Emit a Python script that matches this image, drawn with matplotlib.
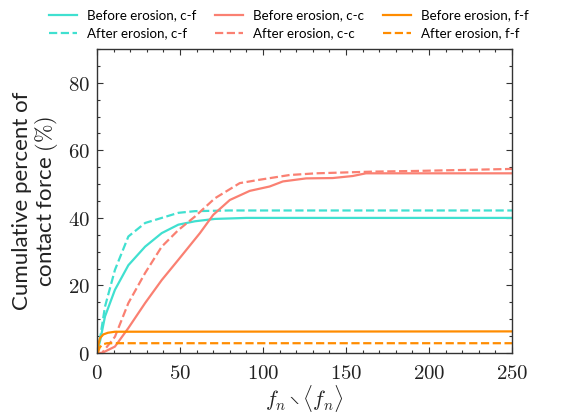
import numpy as np
import matplotlib
matplotlib.use("Agg")
import matplotlib.pyplot as plt
from matplotlib.ticker import MultipleLocator, FuncFormatter

plt.rcParams["mathtext.fontset"] = "cm"

# Cumulative percent of contact force vs normalised normal force
cf_before_x = [0, 2, 4.8, 10.8, 18.9, 29, 39, 49, 59, 71, 90, 250]
cf_before_y = [0, 3.9, 10.8, 18.7, 26.0, 31.5, 35.5, 38.0, 39.0, 39.7, 40.0, 40.0]

cf_after_x = [0, 2, 4.8, 10.8, 18.9, 29, 39, 49, 59, 80, 250]
cf_after_y = [0, 4.8, 13.7, 24.6, 34.5, 38.5, 40.0, 41.5, 42.0, 42.2, 42.2]

cc_before_x = [0, 3, 10.8, 18.9, 29, 39, 49, 62, 70, 80, 92, 104, 112, 126, 142, 154, 162, 250]
cc_before_y = [0, 0, 1.9, 7.4, 14.8, 21.6, 27.6, 35.5, 40.9, 45.3, 48.0, 49.3, 50.8, 51.7, 51.8, 52.4, 53.2, 53.2]

cc_after_x = [0, 3, 10.8, 18.9, 29, 39, 49, 59, 71, 86, 98, 116, 132, 166, 192, 250]
cc_after_y = [0, 0, 4.8, 14.8, 23.7, 31.5, 36.4, 40.4, 45.8, 50.3, 51.3, 52.7, 53.2, 53.7, 53.9, 54.5]

ff_before_x = [0, 0.8, 1.8, 3.8, 6.6, 10.8, 250]
ff_before_y = [0, 2.4, 4.4, 5.5, 6.0, 6.3, 6.4]

ff_after_x = [0.5, 1.5, 3, 6, 250]
ff_after_y = [0, 1.5, 2.5, 2.9, 2.9]

c_cf = "#40E0D0"
c_cc = "#FA8072"
c_ff = "#FF8C00"

fig = plt.figure(figsize=(5.61, 4.19), dpi=100)
ax = fig.add_axes([0.1729, 0.1575, 0.7398, 0.7255])

lw = 1.6
ax.plot(cf_before_x, cf_before_y, color=c_cf, lw=lw, label="Before erosion, c-f")
ax.plot(cf_after_x, cf_after_y, color=c_cf, lw=lw, ls="--", label="After erosion, c-f")
ax.plot(cc_before_x, cc_before_y, color=c_cc, lw=lw, label="Before erosion, c-c")
ax.plot(cc_after_x, cc_after_y, color=c_cc, lw=lw, ls="--", label="After erosion, c-c")
ax.plot(ff_before_x, ff_before_y, color=c_ff, lw=lw, label="Before erosion, f-f")
ax.plot(ff_after_x, ff_after_y, color=c_ff, lw=lw, ls="--", label="After erosion, f-f")

ax.set_xlim(0, 250)
ax.set_ylim(0, 90)
ax.xaxis.set_major_locator(MultipleLocator(50))
ax.xaxis.set_minor_locator(MultipleLocator(10))
ax.yaxis.set_major_locator(MultipleLocator(20))
ax.yaxis.set_minor_locator(MultipleLocator(5))
ax.tick_params(which="both", direction="in", top=True, right=True, colors="#333333")
ax.tick_params(which="major", length=4, width=0.8, labelsize=15, labelcolor="#222222")
ax.tick_params(axis="x", which="major", pad=7)
ax.tick_params(axis="y", which="major", pad=5)
ax.tick_params(which="minor", length=2, width=0.8)
for s in ax.spines.values():
    s.set_color("#333333")
    s.set_linewidth(1.0)

ax.xaxis.set_major_formatter(FuncFormatter(lambda v, p: r"$%d$" % v))
ax.yaxis.set_major_formatter(FuncFormatter(lambda v, p: r"$%d$" % v))

ax.set_xlabel(r"$f_n \setminus \langle f_n \rangle$", fontsize=15.5, color="#222222",
              labelpad=0)
ax.set_ylabel("Cumulative percent of\n" + r"contact force $(\%)$", fontsize=16,
              color="#222222", family="Lato", linespacing=1.05, labelpad=6)

handles, labels = ax.get_legend_handles_labels()
fig.legend(handles, labels, loc="center", bbox_to_anchor=(0.515, 0.942), ncol=3,
           frameon=False, prop={"family": "Lato", "size": 9.6},
           handlelength=2.1, columnspacing=1.4, handletextpad=0.75, labelspacing=0.45)

fig.savefig("out.png", dpi=100)
